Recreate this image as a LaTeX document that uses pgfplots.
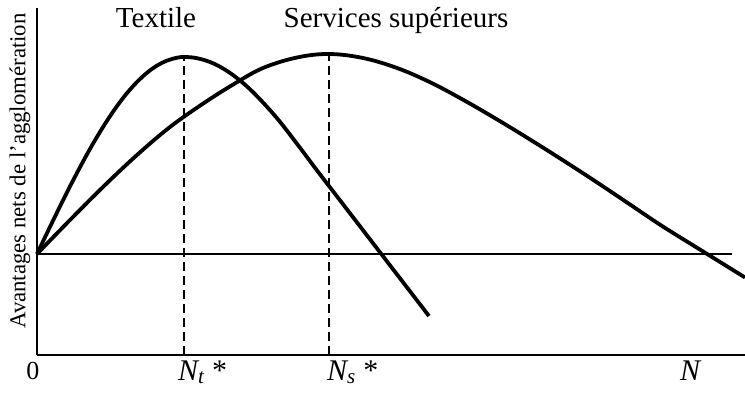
\documentclass[border=0pt]{standalone}
\usepackage{fontspec}
\setmainfont{Liberation Serif}
\usepackage{pgfplots}
\pgfplotsset{compat=1.18}
\begin{document}
\begin{tikzpicture}[x=1pt,y=1pt]
\useasboundingbox (-37pt,-39pt) rectangle (708pt,355pt);
\begin{axis}[
  at={(0pt,0pt)}, anchor=origin,
  scale only axis, width=708pt, height=347pt,
  xmin=0, xmax=708, ymin=0, ymax=347,
  axis lines=left,
  axis line style={-, line width=2.2pt},
  xtick=\empty, ytick=\empty,
  clip=false,
]
% baseline
\addplot[black, line width=1.6pt] coordinates {(0,101) (695,101)};
% Textile
\addplot[black, line width=3.8pt, smooth, tension=0.6] coordinates {
(0,101) (10,121.9) (20,142.5) (30,162.7) (40,182.1) (50,200.7) (60,218.1) (70,234.2) (80,248.9) (90,261.9) (100,273) (110,282.2) (120,289.4) (130,294.4) (140,297.3) (148,298)
(160,296.8) (175,292.2) (190,284.1) (205,272.9) (220,258.8) (240,236.8) (260,211.2) (280,184.6) (300,158.6) (320,132.6) (340,106.6) (360,80.6) (380,54.6) (392,39)
};
% Services
\addplot[black, line width=3.8pt, smooth, tension=0.6] coordinates {
(0,101) (33,135) (67,169) (100,200) (133,228) (167,252) (197,271) (226,287) (260,297.5) (292,301)
(326,297) (360,287) (393,272.8) (426,255.3) (460,235.6) (493,215.5) (526,194.7) (560,172.6) (593,150.5) (626,128.4) (670,101.1) (708,77.5)
};
% dashed markers
\addplot[black, line width=1.5pt, dash pattern=on 9pt off 5pt] coordinates {(147,0) (147,298)};
\addplot[black, line width=1.5pt, dash pattern=on 9pt off 5pt] coordinates {(292,0) (292,301)};
\node[anchor=base, font=\fontsize{29}{32}\selectfont] at (axis cs:119,327) {Textile};
\node[anchor=base, font=\fontsize{29}{32}\selectfont] at (axis cs:359,327) {Services supérieurs};
\node[rotate=90, font=\fontsize{22.8}{25}\selectfont] at (axis cs:-17,184) {Avantages nets de l’agglomération};
\node[anchor=base, font=\fontsize{26}{28}\selectfont] at (axis cs:-4,-24) {0};
\node[anchor=base west, font=\fontsize{30}{32}\selectfont, inner sep=0pt] at (axis cs:141,-25) {\itshape N\textsubscript{t}\upshape\ *};
\node[anchor=base west, font=\fontsize{30}{32}\selectfont, inner sep=0pt] at (axis cs:290,-25) {\itshape N\textsubscript{s}\upshape\ *};
\node[anchor=base west, font=\fontsize{30}{32}\selectfont, inner sep=0pt] at (axis cs:643,-25) {\itshape N};
\end{axis}
\end{tikzpicture}
\end{document}
